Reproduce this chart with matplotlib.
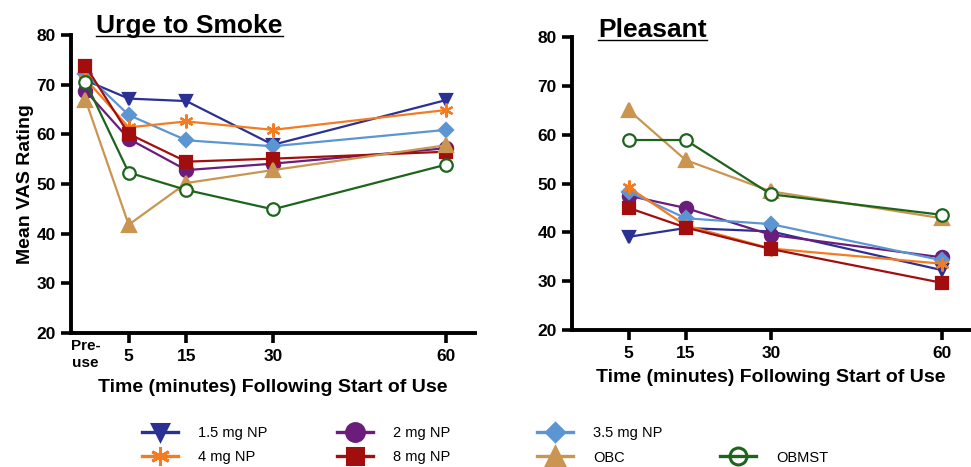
import numpy as np
import matplotlib.pyplot as plt
from matplotlib.lines import Line2D

plt.rcParams['font.family'] = ['Liberation Sans', 'DejaVu Sans']

# time points (minutes); pre-use drawn at -2.5
times_urge = [-2.5, 5, 15, 30, 60]
times_pleasant = [5, 15, 30, 60]

groups = ['1.5 mg NP', '2 mg NP', '3.5 mg NP', '4 mg NP', '8 mg NP', 'OBC', 'OBMST']

urge_15 = [70.9, 67.2, 66.7, 57.9, 66.9]
urge_2 = [68.8, 59.1, 52.8, 54.1, 57.2]
urge_35 = [72.2, 63.9, 58.8, 57.6, 60.9]
urge_4 = [71.2, 61.4, 62.6, 60.9, 64.9]
urge_8 = [73.8, 60.1, 54.5, 55.1, 56.5]
urge_obc = [67.0, 41.8, 50.2, 52.8, 57.8]
urge_obmst = [70.6, 52.3, 48.8, 44.9, 53.9]

pleas_15 = [39.1, 40.9, 40.2, 32.3]
pleas_2 = [47.5, 45.0, 39.5, 34.9]
pleas_35 = [48.3, 42.9, 41.7, 34.3]
pleas_4 = [49.2, 41.4, 36.7, 33.6]
pleas_8 = [45.0, 41.0, 36.6, 29.7]
pleas_obc = [65.0, 54.8, 48.4, 42.9]
pleas_obmst = [58.9, 58.9, 47.8, 43.6]

urge = [urge_15, urge_2, urge_35, urge_4, urge_8, urge_obc, urge_obmst]
pleasant = [pleas_15, pleas_2, pleas_35, pleas_4, pleas_8, pleas_obc, pleas_obmst]

colors = ['#2B3192', '#6B1D7B', '#5B96D2', '#F47B20', '#A20E0E', '#C99550', '#1D651D']
markers = ['v', 'o', 'D', (6, 2, 0), 's', '^', 'o']
msizes = [9, 9.5, 7, 10, 8.5, 9.5, 9]

fig = plt.figure(figsize=(9.71, 4.67), dpi=100)
ax1 = fig.add_axes([0.0731, 0.287, 0.416, 0.638])
ax2 = fig.add_axes([0.589, 0.293, 0.41, 0.628])

leg_handles = []
for i in range(len(groups)):
    face = 'white' if groups[i] == 'OBMST' else colors[i]
    kw = dict(color=colors[i], marker=markers[i], ms=msizes[i], lw=1.6,
              mfc=face, mec=colors[i], mew=1.6, label=groups[i])
    ax1.plot(times_urge, urge[i], **kw)
    ax2.plot(times_pleasant, pleasant[i], **kw)
    # bigger, thicker version for the legend
    leg_handles.append(Line2D([], [], color=colors[i], marker=markers[i],
                              ms=msizes[i] * 1.35, lw=2.4,
                              mfc='none' if groups[i] == 'OBMST' else colors[i],
                              mec=colors[i], mew=2.2))

for ax in (ax1, ax2):
    ax.set_xlim(-5, 65)
    ax.set_ylim(20, 80)
    ax.set_yticks([20, 30, 40, 50, 60, 70, 80])
    ax.set_xticks([5, 15, 30, 60])
    for s in ('top', 'right'):
        ax.spines[s].set_visible(False)
    for s in ('left', 'bottom'):
        ax.spines[s].set_linewidth(2.8)
    ax.tick_params(width=2.6, length=7.5, labelsize=12.5)
    ax.tick_params(axis='x', pad=4)
    for lab in ax.get_xticklabels() + ax.get_yticklabels():
        lab.set_fontweight('bold')
    ax.set_xlabel('Time (minutes) Following Start of Use', fontsize=14,
                  fontweight='bold', labelpad=6)

ax1.set_xticks([-2.5], ['Pre-\nuse'], minor=True)
ax1.tick_params(axis='x', which='minor', length=0, labelsize=11, pad=4)
for lab in ax1.get_xticklabels(minor=True):
    lab.set_fontweight('bold')
    lab.set_linespacing(1.35)
ax1.set_ylabel('Mean VAS Rating', fontsize=14, fontweight='bold', labelpad=2)

# underlined titles
titles = [('Urge to Smoke', 0.099, 0.918), ('Pleasant', 0.616, 0.911)]
fig.canvas.draw()
r = fig.canvas.get_renderer()
for txt, x, y in titles:
    t = fig.text(x, y, txt, fontsize=19, fontweight='bold', va='bottom')
    bb = t.get_window_extent(r).transformed(fig.transFigure.inverted())
    fig.add_artist(Line2D([bb.x0, bb.x1], [bb.y0 + 0.004, bb.y0 + 0.004],
                          color='black', lw=1.0, transform=fig.transFigure))

# legend, one block per column
cols = [[0, 3], [1, 4], [2, 5], [None, 6]]
xpos = [142 / 971, 337 / 971, 537 / 971, 720 / 971]
for c, x in zip(cols, xpos):
    hs, ls = [], []
    for idx in c:
        if idx is None:
            hs.append(Line2D([], [], color='none'))
            ls.append(' ')
        else:
            hs.append(leg_handles[idx])
            ls.append(groups[idx])
    fig.legend(hs, ls, loc='upper left', bbox_to_anchor=(x, 1 - 426 / 467),
               frameon=False, fontsize=10.5, handlelength=2.5,
               labelspacing=0.72, handletextpad=1.35, borderpad=0,
               borderaxespad=0)

fig.savefig('out.png', dpi=100)
